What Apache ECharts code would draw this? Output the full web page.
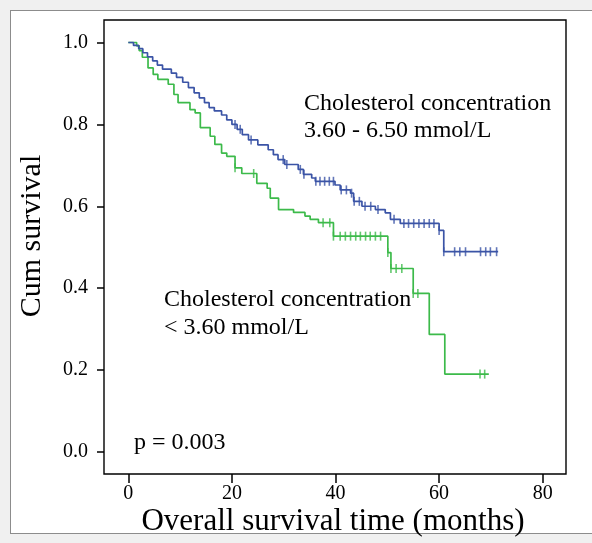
<!DOCTYPE html>
<html>
<head>
<meta charset="utf-8">
<title>Kaplan-Meier</title>
<script src="https://cdn.jsdelivr.net/npm/echarts@6/dist/echarts.min.js"></script>
<style>
  html, body { margin: 0; padding: 0; background: #f0f0f0; }
  #panel { position: absolute; left: 10px; top: 10px; width: 600px; height: 522px; background: #fff; border: 1px solid #8c8c8c; }
  #main { position: absolute; left: 0; top: 0; width: 592px; height: 543px; }
</style>
</head>
<body>
<div id="panel"></div>
<div id="main"></div>
<script>
// 3.60 - 6.50 mmol/L group (blue)
const blueTimes = [0, 1.0, 2.0, 2.8, 3.7, 4.7, 5.6, 6.6, 8.3, 9.3, 10.5, 11.6, 12.7, 13.7, 14.7, 15.6, 16.6, 18.0, 19.0, 20.0, 21.0, 22.0, 23.2, 25.0, 27.0, 28.0, 28.9, 30.2, 32.8, 33.8, 35.4, 36.1, 39.9, 40.9, 42.9, 43.5, 45.1, 47.7, 49.6, 50.6, 52.5, 60.0, 60.9];
const blueSurv = [1.0, 0.993, 0.985, 0.975, 0.965, 0.955, 0.945, 0.935, 0.925, 0.915, 0.903, 0.89, 0.877, 0.865, 0.853, 0.841, 0.833, 0.823, 0.811, 0.8, 0.788, 0.775, 0.762, 0.75, 0.738, 0.726, 0.714, 0.702, 0.69, 0.678, 0.669, 0.661, 0.652, 0.64, 0.632, 0.612, 0.6, 0.592, 0.584, 0.568, 0.558, 0.541, 0.489];
const blueEnd = 71.4;
const blueCensor = [20.6, 21.6, 23.7, 29.9, 30.6, 33.2, 33.9, 36.2, 37.0, 37.9, 38.8, 39.6, 41.1, 42.1, 43.1, 43.6, 44.6, 45.7, 46.8, 48.2, 51.3, 53.2, 54.1, 55.1, 56.1, 57.1, 58.1, 59.0, 60.0, 60.9, 63.0, 64.0, 65.1, 68.0, 69.0, 69.9, 71.1];

// < 3.60 mmol/L group (green)
const greenTimes = [0, 1.6, 2.1, 2.7, 3.8, 4.8, 5.7, 7.7, 8.8, 9.6, 11.9, 12.9, 13.9, 15.8, 16.7, 18.0, 19.0, 20.6, 21.9, 24.8, 26.8, 27.4, 29.0, 31.9, 34.1, 35.1, 36.7, 39.6, 50.1, 50.7, 55.0, 58.1, 61.1];
const greenSurv = [1.0, 0.992, 0.98, 0.964, 0.938, 0.922, 0.91, 0.898, 0.873, 0.853, 0.836, 0.828, 0.792, 0.771, 0.751, 0.73, 0.722, 0.694, 0.68, 0.656, 0.644, 0.62, 0.592, 0.585, 0.576, 0.568, 0.56, 0.527, 0.487, 0.448, 0.387, 0.287, 0.19];
const greenEnd = 69.6;
const greenCensor = [20.6, 24.2, 37.6, 38.9, 39.6, 40.9, 41.9, 42.9, 43.9, 44.8, 45.8, 46.7, 47.7, 48.7, 50.1, 50.7, 51.7, 52.8, 55.0, 55.9, 67.9, 68.8];

const xTicks = [0, 20, 40, 60, 80];
const yTicks = [0, 0.2, 0.4, 0.6, 0.8, 1.0];

const BLUE = '#3b54a6';
const GREEN = '#3cba4a';
const FONT = 'Liberation Serif';

function stepData(times, surv, end) {
  const d = times.map((t, i) => [t, surv[i]]);
  d.push([end, surv[surv.length - 1]]);
  return d;
}
function survAt(times, surv, t) {
  let s = surv[0];
  for (let i = 0; i < times.length; i++) {
    if (times[i] <= t) s = surv[i];
  }
  return s;
}
function censorData(times, surv, cens) {
  return cens.map(t => [t, survAt(times, surv, t)]);
}

let chart = echarts.init(document.getElementById('main'));
chart.setOption({
  animation: false,
  backgroundColor: 'transparent',
  grid: { left: 104, right: 26, top: 20, bottom: 69, show: true, borderColor: '#000', borderWidth: 1.4, backgroundColor: 'transparent' },
  xAxis: {
    type: 'value', min: -4.7, max: 84.5,
    axisLine: { show: false, onZero: false },
    splitLine: { show: false },
    axisTick: { show: true, inside: false, customValues: xTicks, length: 9, lineStyle: { color: '#000', width: 1.5 } },
    axisLabel: { customValues: xTicks, margin: 10, fontFamily: FONT, fontSize: 20, color: '#000' }
  },
  yAxis: {
    type: 'value', min: -0.054, max: 1.055,
    axisLine: { show: false, onZero: false },
    splitLine: { show: false },
    axisTick: { show: true, inside: false, customValues: yTicks, length: 7, lineStyle: { color: '#000', width: 1.5 } },
    axisLabel: { customValues: yTicks, margin: 16, fontFamily: FONT, fontSize: 20, color: '#000', formatter: v => v.toFixed(1) }
  },
  series: [
    { type: 'line', step: 'end', showSymbol: false, data: stepData(blueTimes, blueSurv, blueEnd), lineStyle: { color: BLUE, width: 1.7 }, z: 3 },
    { type: 'line', step: 'end', showSymbol: false, data: stepData(greenTimes, greenSurv, greenEnd), lineStyle: { color: GREEN, width: 1.7 }, z: 2 },
    { type: 'scatter', symbol: 'rect', symbolSize: [1.6, 9], data: censorData(blueTimes, blueSurv, blueCensor), itemStyle: { color: BLUE }, z: 3 },
    { type: 'scatter', symbol: 'rect', symbolSize: [1.6, 9], data: censorData(greenTimes, greenSurv, greenCensor), itemStyle: { color: GREEN }, z: 2 }
  ],
  graphic: [
    { type: 'text', x: 32, y: 236, rotation: Math.PI / 2, style: { text: 'Cum survival', font: '30px "Liberation Serif"', fill: '#000', align: 'center', verticalAlign: 'middle' } },
    { type: 'text', x: 333, y: 522, style: { text: 'Overall survival time (months)', font: '31px "Liberation Serif"', fill: '#000', align: 'center', verticalAlign: 'middle' } },
    { type: 'text', x: 304, y: 117, style: { text: 'Cholesterol concentration\n3.60 - 6.50 mmol/L', font: '24px "Liberation Serif"', lineHeight: 27, fill: '#000', verticalAlign: 'middle' } },
    { type: 'text', x: 164, y: 314, style: { text: 'Cholesterol concentration\n< 3.60 mmol/L', font: '24px "Liberation Serif"', lineHeight: 28, fill: '#000', verticalAlign: 'middle' } },
    { type: 'text', x: 134, y: 443, style: { text: 'p = 0.003', font: '24px "Liberation Serif"', fill: '#000', verticalAlign: 'middle' } }
  ]
});
</script>
</body>
</html>
